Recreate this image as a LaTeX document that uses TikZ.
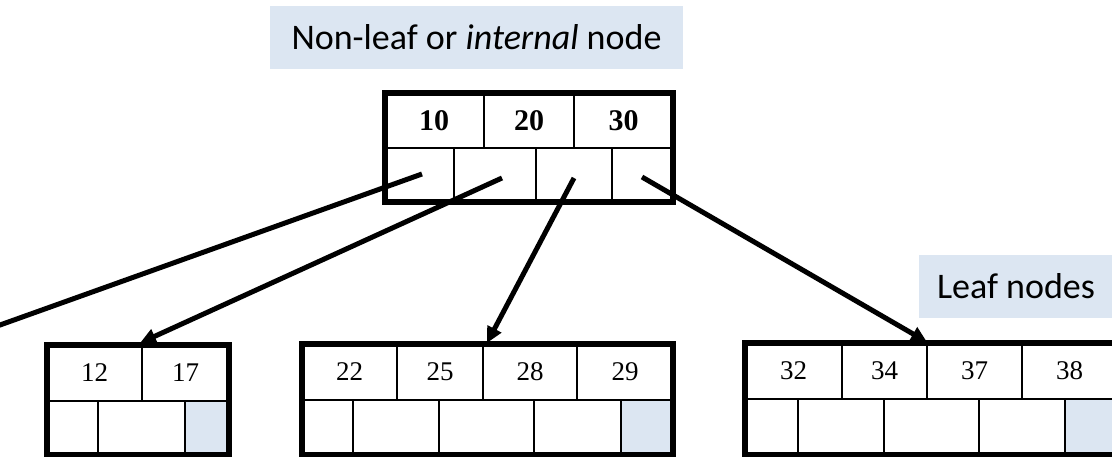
\documentclass[tikz,border=0pt]{standalone}
\usepackage{fontspec}
\setmainfont{Liberation Serif}
\newfontfamily\labelfont{Carlito}
\usetikzlibrary{arrows.meta}
\definecolor{lblue}{HTML}{DCE6F2}
\begin{document}
\begin{tikzpicture}[x=1pt,y=-1pt,
  frame/.style={draw=black,line width=5.5pt,inner sep=0pt,fill=none},
  cell/.style={draw=black,line width=2.5pt},
  keytxt/.style={font=\fontsize{27}{31}\selectfont,inner sep=0pt,anchor=center},
  rootkey/.style={font=\fontsize{30}{34}\selectfont\bfseries,inner sep=0pt,anchor=center},
  label/.style={fill=lblue,inner sep=0pt,font=\labelfont\fontsize{36}{40}\selectfont},
  ptr/.style={draw=black,line width=5pt,-{Triangle[length=16pt,width=15pt]}},
  ptrplain/.style={draw=black,line width=5pt},
  free/.style={fill=lblue}]
\useasboundingbox (0,0) rectangle (1112,457);
\clip (0,0) rectangle (1112,457);

% labels
\node[label,minimum width=413pt,minimum height=63pt] (lblint) at (476.5,37.5) {Non-leaf or \textit{internal} node};
\node[label,minimum width=200pt,minimum height=63pt,anchor=west] (lblleaf) at (919,286.5) {};
\node[font=\labelfont\fontsize{36}{40}\selectfont,inner sep=0pt] (lblleaftxt) at (1016,286.5) {Leaf nodes};

% shaded free cells
\fill[free] (185,401) rectangle (229,455);
\fill[free] (621,400) rectangle (673,455);
\fill[free] (1065,399) rectangle (1117,455);

% root node grid
\draw[cell] (385,148) -- (673,148);
\draw[cell] (484,93) -- (484,148) (574,93) -- (574,148);
\draw[cell] (454,148) -- (454,202) (536,148) -- (536,202) (612,148) -- (612,202);
\node[frame,minimum width=288pt,minimum height=109pt] (root) at (529,147.5) {};
\node[rootkey] (k10) at (434,120.5) {10};
\node[rootkey] (k20) at (529,120.5) {20};
\node[rootkey] (k30) at (623.5,120.5) {30};

% left leaf
\draw[cell] (47,401) -- (229,401);
\draw[cell] (142,345) -- (142,401);
\draw[cell] (98,401) -- (98,455) (185,401) -- (185,455);
\node[frame,minimum width=182pt,minimum height=110pt] (leafA) at (138,400) {};
\node[keytxt] (k12) at (94.5,373) {12};
\node[keytxt] (k17) at (185.5,373) {17};

% middle leaf
\draw[cell] (302,400) -- (673,400);
\draw[cell] (397,344) -- (397,400) (483,344) -- (483,400) (577,344) -- (577,400);
\draw[cell] (353,400) -- (353,455) (439,400) -- (439,455) (534,400) -- (534,455) (621,400) -- (621,455);
\node[frame,minimum width=371pt,minimum height=111pt] (leafB) at (487.5,399.5) {};
\node[keytxt] (k22) at (349.5,372) {22};
\node[keytxt] (k25) at (440,372) {25};
\node[keytxt] (k28) at (530,372) {28};
\node[keytxt] (k29) at (625,372) {29};

% right leaf
\draw[cell] (745,399) -- (1117,399);
\draw[cell] (842,343) -- (842,399) (927,343) -- (927,399) (1022,343) -- (1022,399);
\draw[cell] (798,399) -- (798,455) (884,399) -- (884,455) (979,399) -- (979,455) (1065,399) -- (1065,455);
\node[frame,minimum width=372pt,minimum height=112pt] (leafC) at (931,399) {};
\node[keytxt] (k32) at (793.5,371) {32};
\node[keytxt] (k34) at (884.5,371) {34};
\node[keytxt] (k37) at (974.5,371) {37};
\node[keytxt] (k38) at (1069.5,371) {38};

% pointer coordinates
\coordinate (p0) at (422,174);
\coordinate (p1) at (502,178);
\coordinate (p2) at (574,178);
\coordinate (p3) at (642,177);
\coordinate (offleft) at (-12,329.3);
\coordinate (inA) at (140,343);
\coordinate (inB) at (487,343);
\coordinate (inC) at (927,342);

% pointers
\draw[ptrplain] (p0) -- (offleft);
\draw[ptr] (p1) -- (inA);
\draw[ptr] (p2) -- (inB);
\draw[ptr] (p3) -- (inC);
\end{tikzpicture}
\end{document}
